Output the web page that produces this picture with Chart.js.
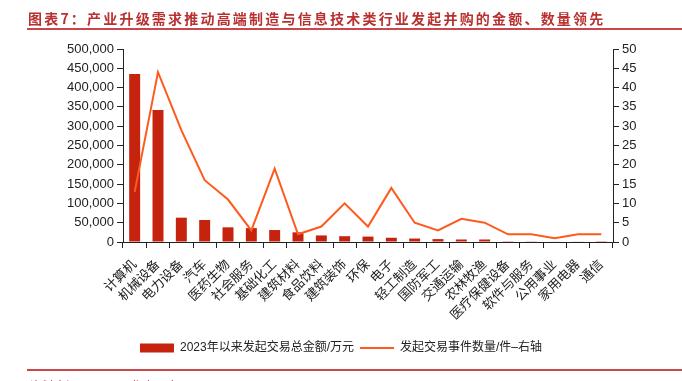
<!DOCTYPE html>
<html>
<head>
<meta charset="utf-8">
<script src="https://cdn.jsdelivr.net/npm/chart.js@4.4.1/dist/chart.umd.min.js"></script>
<style>
  html, body { margin: 0; padding: 0; background: #fff; overflow: hidden; }
  #wrap { position: relative; width: 682px; height: 381px; }
  #c { position: absolute; left: 0; top: 0; }
  .title { position: absolute; left: 28px; top: 8px; font: bold 14px 'Noto Sans CJK SC', sans-serif;
           letter-spacing: 2.2px; color: #b8302f; white-space: nowrap; }
  .rule { position: absolute; left: 27px; right: 0; height: 2px; background: #c9474a; }
  .src { position: absolute; left: 30px; top: 377px; font: 12px 'Noto Sans CJK SC', sans-serif; color: #b5282c; white-space: nowrap; }
</style>
</head>
<body>
<div id="wrap">
  <canvas id="c" width="682" height="381"></canvas>
  <div class="title">图表7：产业升级需求推动高端制造与信息技术类行业发起并购的金额、数量领先</div>
  <div class="rule" style="top:28px"></div>
  <div class="rule" style="top:369px"></div>
  <div class="src">资料来源：Wind，华泰研究</div>
</div>
<script>
// 行业
const industries = ['计算机', '机械设备', '电力设备', '汽车', '医药生物', '社会服务', '基础化工', '建筑材料',
  '食品饮料', '建筑装饰', '环保', '电子', '轻工制造', '国防军工', '交通运输', '农林牧渔',
  '医疗保健设备', '软件与服务', '公用事业', '家用电器', '通信'];
// 2023年以来发起交易总金额/万元
const dealAmount = [435000, 342000, 63000, 57000, 38000, 36000, 31000, 25000,
  17000, 15000, 14000, 11000, 9000, 7500, 6500, 6500, 2000, 1800, 1500, 1000, 500];
// 发起交易事件数量/件 (右轴)
const dealCount = [13, 44, 29, 16, 11, 3, 19, 2, 4, 10, 4, 14, 5, 3, 6, 5, 2, 2, 1, 2, 2];

const leftTicks = [0, 50000, 100000, 150000, 200000, 250000, 300000, 350000, 400000, 450000, 500000];

const FONT = "'Liberation Sans', 'Noto Sans CJK SC', sans-serif";
const axisColor = '#222';

new Chart(document.getElementById('c').getContext('2d'), {
  data: {
    labels: industries,
    datasets: [{
      type: 'bar',
      label: '2023年以来发起交易总金额/万元',
      data: dealAmount,
      backgroundColor: '#c5230e',
      yAxisID: 'y',
      order: 1,
      categoryPercentage: 1,
      barPercentage: 0.47,
      pointStyle: 'rect'
    }, {
      type: 'line',
      label: '发起交易事件数量/件–右轴',
      data: dealCount,
      borderColor: '#ff5a1e',
      backgroundColor: '#ff5a1e',
      borderWidth: 2,
      pointRadius: 0,
      tension: 0,
      yAxisID: 'y1',
      order: 0,
      pointStyle: 'line'
    }]
  },
  options: {
    responsive: false,
    animation: false,
    layout: { padding: { top: 49, left: 0, right: 0, bottom: 17 } },
    plugins: {
      tooltip: { enabled: false },
      legend: {
        position: 'bottom',
        labels: {
          usePointStyle: true,
          pointStyleWidth: 34,
          boxHeight: 9,
          padding: 6,
          color: axisColor,
          font: { family: FONT, size: 12 },
          sort: (a, b) => a.datasetIndex - b.datasetIndex
        }
      }
    },
    scales: {
      x: {
        grid: { display: true, drawOnChartArea: false, offset: true, tickLength: 6, color: axisColor },
        border: { color: axisColor, width: 1 },
        ticks: { minRotation: 45, maxRotation: 45, autoSkip: false, color: axisColor, padding: 9,
                 font: { family: FONT, size: 13 } },
        afterFit: s => { s.height = 94; }
      },
      y: {
        position: 'left',
        min: 0, max: 500000,
        afterBuildTicks: s => { s.ticks = leftTicks.map(v => ({ value: v })); },
        grid: { drawOnChartArea: false, tickLength: 6, color: axisColor },
        border: { color: axisColor, width: 1 },
        ticks: { color: axisColor, padding: 3, font: { family: FONT, size: 13 },
                 callback: v => v.toLocaleString('en-US') },
        afterFit: s => { s.width = 123; }
      },
      y1: {
        position: 'right',
        min: 0, max: 50,
        ticks: { stepSize: 5, color: axisColor, padding: 3, font: { family: FONT, size: 13 } },
        grid: { drawOnChartArea: false, tickLength: 6, color: axisColor },
        border: { color: axisColor, width: 1 },
        afterFit: s => { s.width = 69; }
      }
    }
  }
});
</script>
</body>
</html>
